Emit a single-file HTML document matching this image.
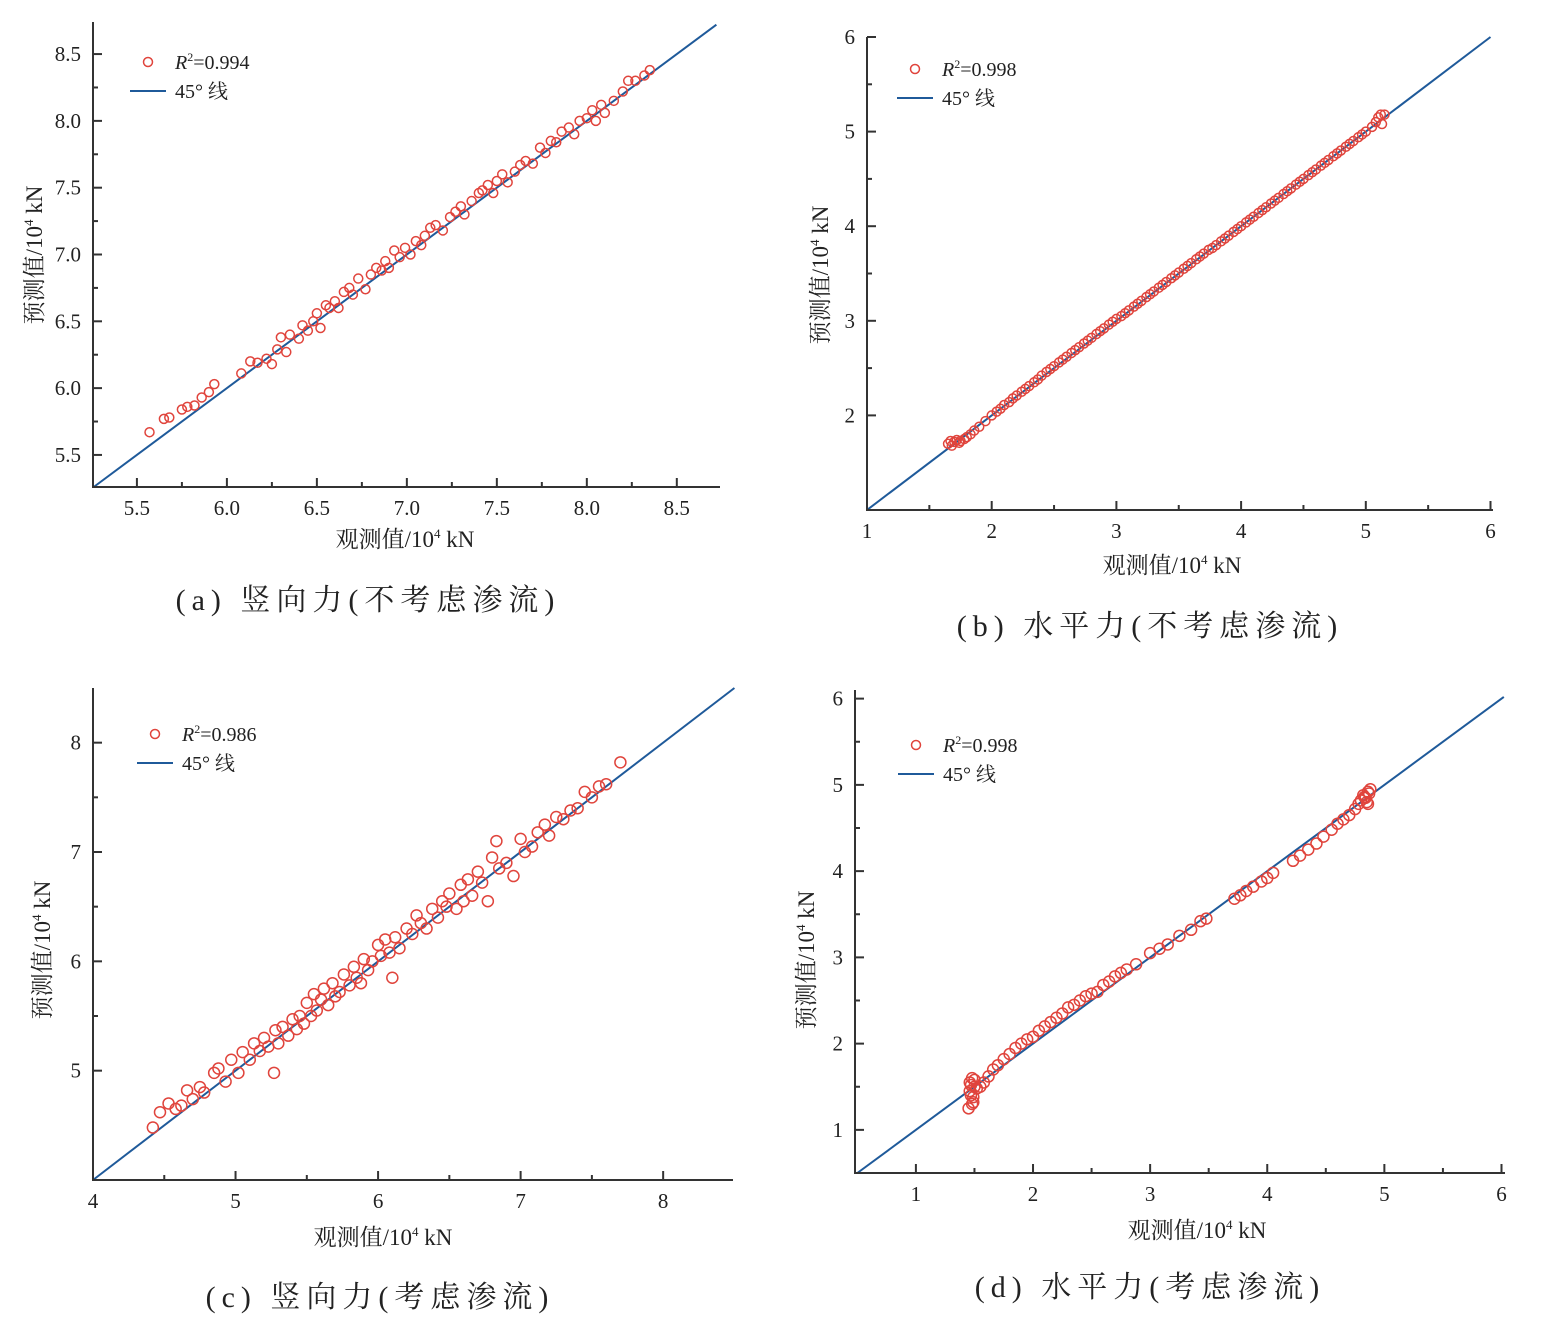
<!DOCTYPE html>
<html><head><meta charset="utf-8"><style>
html,body{margin:0;padding:0;background:#fff}
svg{display:block}
text{font-family:"Liberation Serif","Noto Serif CJK SC",serif;fill:#222}
</style></head><body>
<svg id="s" width="1550" height="1337" viewBox="0 0 1550 1337" xmlns="http://www.w3.org/2000/svg"></svg>
<script>
const aX=[5.57,5.65,5.68,5.75,5.78,5.82,5.86,5.9,5.93,6.08,6.13,6.17,6.22,6.25,6.28,6.3,6.33,6.35,6.4,6.42,6.45,6.48,6.5,6.52,6.55,6.57,6.6,6.62,6.65,6.68,6.7,6.73,6.77,6.8,6.83,6.86,6.88,6.9,6.93,6.96,6.99,7.02,7.05,7.08,7.1,7.13,7.16,7.2,7.24,7.27,7.3,7.32,7.36,7.4,7.42,7.45,7.48,7.5,7.53,7.56,7.6,7.63,7.66,7.7,7.74,7.77,7.8,7.83,7.86,7.9,7.93,7.96,8.0,8.03,8.05,8.08,8.1,8.15,8.2,8.23,8.27,8.32,8.35];
const aY=[5.67,5.77,5.78,5.84,5.86,5.87,5.93,5.97,6.03,6.11,6.2,6.19,6.22,6.18,6.29,6.38,6.27,6.4,6.37,6.47,6.43,6.5,6.56,6.45,6.62,6.6,6.65,6.6,6.72,6.75,6.7,6.82,6.74,6.85,6.9,6.88,6.95,6.9,7.03,6.98,7.05,7.0,7.1,7.07,7.14,7.2,7.22,7.18,7.28,7.32,7.36,7.3,7.4,7.46,7.48,7.52,7.46,7.55,7.6,7.54,7.62,7.67,7.7,7.68,7.8,7.76,7.85,7.84,7.92,7.95,7.9,8.0,8.02,8.08,8.0,8.12,8.06,8.15,8.22,8.3,8.3,8.34,8.38];
const bX=[1.65,1.67,1.68,1.7,1.72,1.74,1.75,1.78,1.8,1.83,1.86,1.9,1.95,2.0,2.04,2.07,2.1,2.14,2.17,2.2,2.24,2.27,2.3,2.34,2.37,2.4,2.44,2.47,2.5,2.54,2.57,2.6,2.64,2.67,2.7,2.74,2.77,2.8,2.84,2.87,2.9,2.94,2.97,3.0,3.04,3.07,3.1,3.14,3.17,3.2,3.24,3.27,3.3,3.34,3.37,3.4,3.44,3.47,3.5,3.54,3.57,3.6,3.64,3.67,3.7,3.74,3.77,3.8,3.84,3.87,3.9,3.94,3.97,4.0,4.04,4.07,4.1,4.14,4.17,4.2,4.24,4.27,4.3,4.34,4.37,4.4,4.44,4.47,4.5,4.54,4.57,4.6,4.64,4.67,4.7,4.74,4.77,4.8,4.84,4.87,4.9,4.94,4.97,5.0,5.05,5.08,5.1,5.12,5.13,5.15];
const bY=[1.7,1.73,1.68,1.72,1.74,1.71,1.73,1.75,1.77,1.8,1.84,1.88,1.94,2.0,2.04,2.07,2.11,2.14,2.18,2.21,2.25,2.28,2.31,2.35,2.38,2.42,2.46,2.49,2.52,2.56,2.59,2.62,2.66,2.69,2.72,2.76,2.79,2.82,2.86,2.89,2.92,2.96,2.99,3.02,3.05,3.08,3.11,3.15,3.18,3.21,3.25,3.28,3.31,3.35,3.38,3.41,3.45,3.48,3.51,3.55,3.58,3.61,3.65,3.68,3.71,3.75,3.77,3.8,3.84,3.87,3.9,3.94,3.97,4.0,4.04,4.07,4.1,4.14,4.17,4.2,4.24,4.27,4.3,4.34,4.37,4.4,4.44,4.47,4.5,4.54,4.57,4.6,4.64,4.67,4.7,4.74,4.77,4.8,4.84,4.87,4.9,4.94,4.97,5.0,5.05,5.1,5.15,5.18,5.08,5.18];
const cX=[4.42,4.47,4.53,4.58,4.62,4.66,4.7,4.75,4.78,4.85,4.88,4.93,4.97,5.02,5.05,5.1,5.13,5.17,5.2,5.23,5.27,5.28,5.3,5.33,5.37,5.4,5.43,5.45,5.48,5.5,5.53,5.55,5.57,5.6,5.62,5.65,5.68,5.7,5.73,5.76,5.8,5.83,5.85,5.88,5.9,5.93,5.96,6.0,6.02,6.05,6.08,6.1,6.12,6.15,6.2,6.24,6.27,6.3,6.34,6.38,6.42,6.45,6.48,6.5,6.55,6.58,6.6,6.63,6.66,6.7,6.73,6.77,6.8,6.83,6.85,6.9,6.95,7.0,7.03,7.08,7.12,7.17,7.2,7.25,7.3,7.35,7.4,7.45,7.5,7.55,7.6,7.7];
const cY=[4.48,4.62,4.7,4.65,4.68,4.82,4.74,4.85,4.8,4.98,5.02,4.9,5.1,4.98,5.17,5.1,5.25,5.18,5.3,5.22,4.98,5.37,5.25,5.4,5.32,5.47,5.38,5.5,5.43,5.62,5.5,5.7,5.55,5.65,5.75,5.6,5.8,5.68,5.72,5.88,5.78,5.95,5.85,5.8,6.02,5.92,6.0,6.15,6.05,6.2,6.08,5.85,6.22,6.12,6.3,6.25,6.42,6.35,6.3,6.48,6.4,6.55,6.5,6.62,6.48,6.7,6.55,6.75,6.6,6.82,6.72,6.55,6.95,7.1,6.85,6.9,6.78,7.12,7.0,7.05,7.18,7.25,7.15,7.32,7.3,7.38,7.4,7.55,7.5,7.6,7.62,7.82];
const dX=[1.45,1.46,1.47,1.48,1.49,1.5,1.46,1.48,1.5,1.52,1.47,1.49,1.55,1.58,1.62,1.66,1.7,1.75,1.8,1.85,1.9,1.95,2.0,2.05,2.1,2.15,2.2,2.25,2.3,2.35,2.4,2.45,2.5,2.55,2.6,2.65,2.7,2.75,2.8,2.88,3.0,3.08,3.15,3.25,3.35,3.43,3.48,3.72,3.77,3.82,3.88,3.95,4.0,4.05,4.22,4.28,4.35,4.42,4.48,4.55,4.6,4.65,4.7,4.75,4.78,4.8,4.82,4.84,4.85,4.86,4.87,4.88,4.83,4.86];
const dY=[1.25,1.55,1.4,1.6,1.32,1.5,1.45,1.3,1.58,1.48,1.52,1.38,1.5,1.55,1.62,1.7,1.75,1.82,1.88,1.95,2.0,2.05,2.08,2.15,2.2,2.25,2.3,2.35,2.42,2.45,2.5,2.55,2.58,2.6,2.68,2.72,2.78,2.82,2.86,2.92,3.05,3.1,3.15,3.25,3.32,3.42,3.45,3.68,3.72,3.77,3.82,3.88,3.92,3.98,4.12,4.18,4.25,4.32,4.4,4.48,4.55,4.6,4.65,4.72,4.78,4.82,4.88,4.85,4.8,4.92,4.9,4.95,4.86,4.78];

const NS="http://www.w3.org/2000/svg";
const svg=document.getElementById('s');
function el(tag,attrs,parent,txt){const e=document.createElementNS(NS,tag);for(const k in attrs)e.setAttribute(k,attrs[k]);if(txt!==undefined)e.textContent=txt;(parent||svg).appendChild(e);return e;}

function panel(c,xs,ys){
  const g=el('g',{});
  
  
  const sx=v=>c.L+(v-c.x0)/(c.x1-c.x0)*(c.R-c.L);
  const sy=v=>c.B-(v-c.y0)/(c.y1-c.y0)*(c.B-c.T);
  const lx0=Math.max(c.x0,c.y0), lx1=c.lend;
  const ln=el('line',{x1:sx(lx0),y1:sy(lx0),x2:sx(lx1),y2:sy(lx1),stroke:'#1f5a9a','stroke-width':2},g);
  
  
  for(let i=0;i<xs.length;i++){
    const p=el('circle',{cx:sx(xs[i]),cy:sy(ys[i]),r:c.r,fill:'none',stroke:'#e0443c','stroke-width':1.5},g);
    
    
  }
  const ax=el('path',{d:`M${c.L},${c.T}V${c.B}H${c.R}`,fill:'none',stroke:'#333','stroke-width':2},g);
  
  
  c.xt.forEach((v,i)=>{
    const x=sx(v);
    el('line',{x1:x,y1:c.B,x2:x,y2:c.B-9,stroke:'#333','stroke-width':2},g);
    const t=el('text',{x:x,y:c.B+28,'text-anchor':'middle','font-size':21},g,c.xl[i]);
    
    
    if(i<c.xt.length-1){const m=sx(v+c.xs/2);if(m<c.R)el('line',{x1:m,y1:c.B,x2:m,y2:c.B-5,stroke:'#333','stroke-width':2},g);}
  });
  c.yt.forEach((v,i)=>{
    const y=sy(v);
    el('line',{x1:c.L,y1:y,x2:c.L+9,y2:y,stroke:'#333','stroke-width':2},g);
    const t=el('text',{x:c.L-12,y:y+7,'text-anchor':'end','font-size':21},g,c.yl[i]);
    
    
    const m=sy(v+c.ys/2);if(m>c.T)el('line',{x1:c.L,y1:m,x2:c.L+5,y2:m,stroke:'#333','stroke-width':2},g);
  });
  const xt=el('text',{x:c.xtx,y:c.xty,'text-anchor':'middle','font-size':23},g);
  xt.innerHTML='观测值/10<tspan font-size="13" dy="-9">4</tspan><tspan dy="9"> kN</tspan>';
  
  
  const yt=el('text',{x:0,y:0,'text-anchor':'middle','font-size':23,transform:`translate(${c.ytx},${c.yty}) rotate(-90)`},g);
  yt.innerHTML='预测值/10<tspan font-size="13" dy="-9">4</tspan><tspan dy="9"> kN</tspan>';
  
  
  const lg=el('g',{},g);
  
  
  el('circle',{cx:c.lgx+18,cy:c.lgy,r:4.5,fill:'none',stroke:'#e0443c','stroke-width':1.5},lg);
  const r2=el('text',{x:c.lgx+45,y:c.lgy+7,'font-size':20},lg);
  r2.innerHTML='<tspan font-style="italic">R</tspan><tspan font-size="12" dy="-8">2</tspan><tspan dy="8">='+c.r2+'</tspan>';
  el('line',{x1:c.lgx,y1:c.lgy+29,x2:c.lgx+36,y2:c.lgy+29,stroke:'#1f5a9a','stroke-width':2},lg);
  el('text',{x:c.lgx+45,y:c.lgy+36,'font-size':20},lg,'45° 线');
  const cap=el('text',{x:c.cx,y:c.cy,'text-anchor':'middle','font-size':30,'letter-spacing':6},g,c.cap);
  
  
}

panel({id:'a',L:93,R:720,T:22,B:487,x0:5.256,x1:8.74,y0:5.26,y1:8.74,r:4.5,lend:8.72,
  xt:[5.5,6,6.5,7,7.5,8,8.5],xl:['5.5','6.0','6.5','7.0','7.5','8.0','8.5'],xs:0.5,
  yt:[5.5,6,6.5,7,7.5,8,8.5],yl:['5.5','6.0','6.5','7.0','7.5','8.0','8.5'],ys:0.5,
  xtx:405,xty:547,ytx:42,yty:255,lgx:130,lgy:62,r2:'0.994',cap:'(a) 竖向力(不考虑渗流)',cx:368,cy:610},aX,aY);
panel({id:'b',L:867,R:1493,T:37,B:510,x0:1,x1:6.02,y0:1,y1:6,r:4.5,lend:6,
  xt:[1,2,3,4,5,6],xl:['1','2','3','4','5','6'],xs:1,
  yt:[2,3,4,5,6],yl:['2','3','4','5','6'],ys:1,
  xtx:1172,xty:573,ytx:828,yty:275,lgx:897,lgy:69,r2:'0.998',cap:'(b) 水平力(不考虑渗流)',cx:1150,cy:636},bX,bY);
panel({id:'c',L:93,R:733,T:688,B:1180,x0:4,x1:8.49,y0:4,y1:8.5,r:5.5,lend:8.5,
  xt:[4,5,6,7,8],xl:['4','5','6','7','8'],xs:1,
  yt:[5,6,7,8],yl:['5','6','7','8'],ys:1,
  xtx:383,xty:1245,ytx:50,yty:950,lgx:137,lgy:734,r2:'0.986',cap:'(c) 竖向力(考虑渗流)',cx:380,cy:1307},cX,cY);
panel({id:'d',L:855,R:1505,T:690,B:1173,x0:0.48,x1:6.03,y0:0.5,y1:6.1,r:5.5,lend:6.02,
  xt:[1,2,3,4,5,6],xl:['1','2','3','4','5','6'],xs:1,
  yt:[1,2,3,4,5,6],yl:['1','2','3','4','5','6'],ys:1,
  xtx:1197,xty:1238,ytx:814,yty:960,lgx:898,lgy:745,r2:'0.998',cap:'(d) 水平力(考虑渗流)',cx:1150,cy:1297},dX,dY);
</script>
</body></html>
